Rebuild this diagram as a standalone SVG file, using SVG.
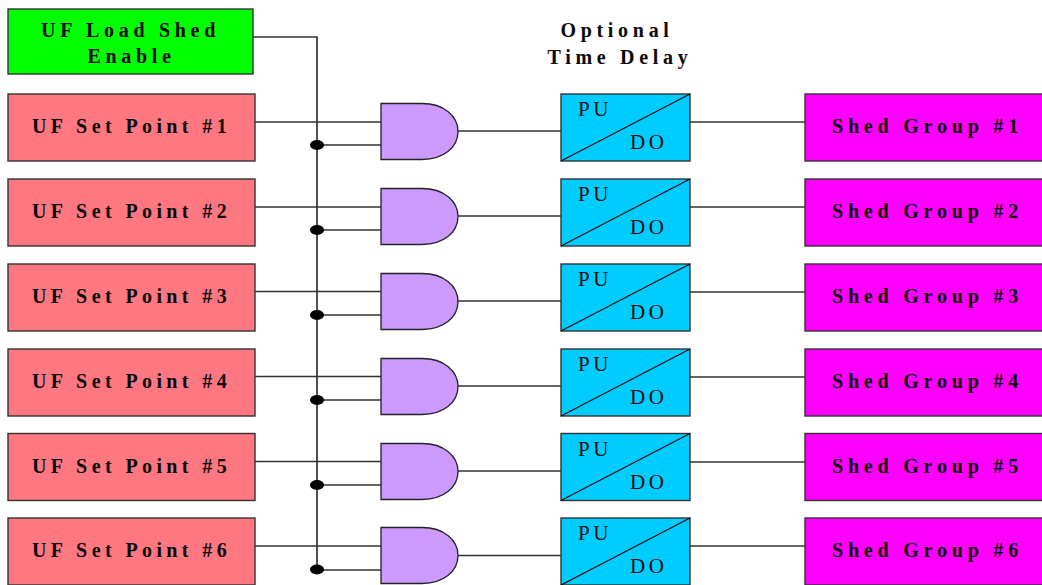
<svg xmlns="http://www.w3.org/2000/svg" width="1042" height="585" viewBox="0 0 1042 585">
<style>
.b{stroke:#333;stroke-width:1.4}
.w{stroke:#333;stroke-width:1.4;fill:none}
text{font-family:"Liberation Serif","Times New Roman",serif;fill:#0a0a0a}
.t{font-size:20px;font-weight:bold;letter-spacing:4.7px}
.s{letter-spacing:4.8px}
.p{letter-spacing:4.4px}
.d{font-size:21px;letter-spacing:3.6px}
.red{fill:#ff7780}.mag{fill:#ff00ff}.blu{fill:#00ccff}.pur{fill:#cc99ff;stroke:#222;stroke-width:1.3}
.diag{stroke:#111;stroke-width:1.4;fill:none}
</style>
<defs>
<g id="dly"><rect x="561" y="94" width="129" height="67" class="blu b"/><path d="M561 161L690 94" class="diag"/><text x="578" y="116" class="d">PU</text><text x="630" y="149" class="d">DO</text></g>
<path id="gate" d="M381 103.500H422C444 103.500 458 116 458 131.500C458 147 444 159.500 422 159.500H381Z" class="pur"/>
</defs>
<g id="connectors">
<path d="M253 37H317V570" class="w" style="stroke-width:1.7"/>
<path d="M252 122H381M317 145H381M458 131H561M690 122H805" class="w"/>
<path d="M252 207H381M317 230H381M458 216H561M690 207H805" class="w"/>
<path d="M252 291.500H381M317 315H381M458 301H561M690 292H805" class="w"/>
<path d="M252 376.500H381M317 400H381M458 386H561M690 377H805" class="w"/>
<path d="M252 461.500H381M317 485H381M458 471H561M690 462H805" class="w"/>
<path d="M252 546H381M317 570H381M458 555.500H561M690 546H805" class="w"/>
<g fill="#000"><ellipse cx="317" cy="145" rx="7" ry="5"/><ellipse cx="317" cy="230" rx="7" ry="5"/><ellipse cx="317" cy="315" rx="7" ry="5"/><ellipse cx="317" cy="400" rx="7" ry="5"/><ellipse cx="317" cy="485" rx="7" ry="5"/><ellipse cx="317" cy="569.500" rx="7" ry="5"/></g>
</g>
<g id="enable"><rect x="8" y="9" width="245" height="65" fill="#00ff00" class="b"/><text x="130.500" y="37" text-anchor="middle" class="t">UF Load Shed</text><text x="131.500" y="63" text-anchor="middle" class="t">Enable</text></g>
<g id="title"><text x="617" y="36.500" text-anchor="middle" class="t">Optional</text><text x="620" y="64" text-anchor="middle" class="t">Time Delay</text></g>
<g id="sp1"><rect x="8" y="94" width="247" height="67" class="red b"/><text x="32" y="133" class="t p">UF Set Point #1</text></g>
<g id="sp2"><rect x="8" y="179" width="247" height="67" class="red b"/><text x="32" y="218" class="t p">UF Set Point #2</text></g>
<g id="sp3"><rect x="8" y="264" width="247" height="67" class="red b"/><text x="32" y="303" class="t p">UF Set Point #3</text></g>
<g id="sp4"><rect x="8" y="349" width="247" height="67" class="red b"/><text x="32" y="388" class="t p">UF Set Point #4</text></g>
<g id="sp5"><rect x="8" y="433.500" width="247" height="67" class="red b"/><text x="32" y="472.500" class="t p">UF Set Point #5</text></g>
<g id="sp6"><rect x="8" y="518" width="247" height="67" class="red b"/><text x="32" y="557" class="t p">UF Set Point #6</text></g>
<g id="and1"><use href="#gate"/></g>
<g id="and2"><use href="#gate" y="85"/></g>
<g id="and3"><use href="#gate" y="170"/></g>
<g id="and4"><use href="#gate" y="255"/></g>
<g id="and5"><use href="#gate" y="340"/></g>
<g id="and6"><use href="#gate" y="424"/></g>
<g id="delay1"><use href="#dly"/></g>
<g id="delay2"><use href="#dly" y="85"/></g>
<g id="delay3"><use href="#dly" y="170"/></g>
<g id="delay4"><use href="#dly" y="255"/></g>
<g id="delay5"><use href="#dly" y="339.500"/></g>
<g id="delay6"><use href="#dly" y="424"/></g>
<g id="shed1"><rect x="805" y="94" width="240" height="67" class="mag b"/><text x="832" y="133" class="t s">Shed Group #1</text></g>
<g id="shed2"><rect x="805" y="179" width="240" height="67" class="mag b"/><text x="832" y="218" class="t s">Shed Group #2</text></g>
<g id="shed3"><rect x="805" y="264" width="240" height="67" class="mag b"/><text x="832" y="303" class="t s">Shed Group #3</text></g>
<g id="shed4"><rect x="805" y="349" width="240" height="67" class="mag b"/><text x="832" y="388" class="t s">Shed Group #4</text></g>
<g id="shed5"><rect x="805" y="433.500" width="240" height="67" class="mag b"/><text x="832" y="472.500" class="t s">Shed Group #5</text></g>
<g id="shed6"><rect x="805" y="518" width="240" height="67" class="mag b"/><text x="832" y="557" class="t s">Shed Group #6</text></g>
</svg>
